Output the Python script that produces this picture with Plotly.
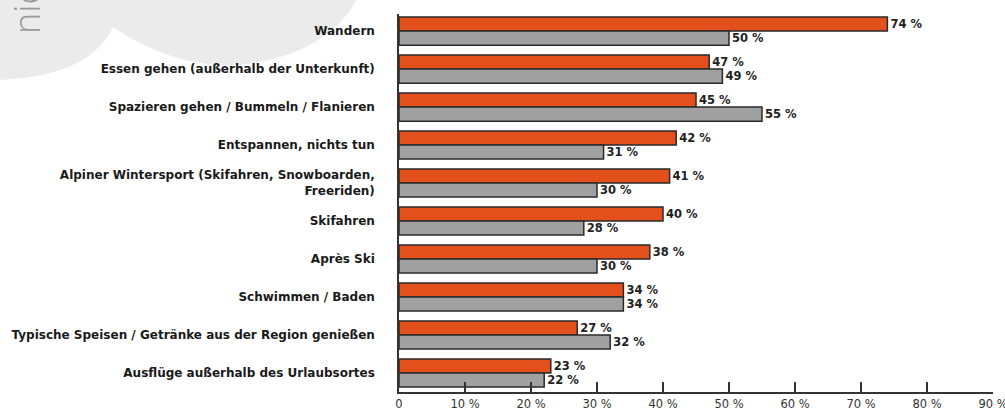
import plotly.graph_objects as go

categories = [
    "Wandern",
    "Essen gehen (außerhalb der Unterkunft)",
    "Spazieren gehen / Bummeln / Flanieren",
    "Entspannen, nichts tun",
    "Alpiner Wintersport (Skifahren, Snowboarden,<br>Freeriden)",
    "Skifahren",
    "Après Ski",
    "Schwimmen / Baden",
    "Typische Speisen / Getränke aus der Region genießen",
    "Ausflüge außerhalb des Urlaubsortes",
]
series_a = [74, 47, 45, 42, 41, 40, 38, 34, 27, 23]
series_b = [50, 49, 55, 31, 30, 28, 30, 34, 32, 22]
tick_vals = [0, 10, 20, 30, 40, 50, 60, 70, 80, 90]
tick_text = ["0", "10 %", "20 %", "30 %", "40 %", "50 %", "60 %", "70 %", "80 %", "90 %"]

W, H = 1005, 412
ML, MT = 399, 14
PW = 993 - 399
PH = 392 - 14
MR = W - ML - PW
MB = H - MT - PH

def P(x, y):
    a = (x - ML) / PW
    b = 1 - (y - MT) / PH
    return f"{a:.5f},{b:.5f}"

FONT = "DejaVu Sans"

fig = go.Figure()
for vals, col in ((series_a, "#E4501B"), (series_b, "#A0A0A0")):
    fig.add_trace(go.Bar(
        y=categories, x=vals, orientation="h",
        marker=dict(color=col, line=dict(color="#2a2a2a", width=1.5)),
        text=[f"{v} %" for v in vals], textposition="outside",
        textfont=dict(family=FONT, size=11.5, color="#222222", weight="bold"),
        cliponaxis=False, hoverinfo="skip",
    ))

path = (f"M {P(-2,-2)} L {P(-2,80)} C {P(50,78)} {P(95,65)} {P(113,27)} "
        f"C {P(140,45)} {P(180,65)} {P(225,65)} C {P(290,65)} {P(340,35)} {P(357,-2)} Z")
fig.add_shape(type="path", path=path, xref="paper", yref="paper",
              fillcolor="#EBEBEB", line=dict(width=0), layer="below")
a, b = P(27, 36).split(",")
fig.add_annotation(text="nicht", x=float(a), y=float(b), xref="paper", yref="paper",
                   textangle=-90, showarrow=False, xanchor="center", yanchor="bottom",
                   font=dict(family="Open Sans", size=36, color="#9a9a9a", weight=300))

fig.update_layout(
    width=W, height=H,
    margin=dict(l=ML, r=MR, t=MT, b=MB, autoexpand=False),
    barmode="group", bargap=0.26, bargroupgap=0,
    plot_bgcolor="rgba(0,0,0,0)", paper_bgcolor="white",
    showlegend=False,
    xaxis=dict(range=[0, 90], tickvals=tick_vals, ticktext=tick_text,
               showgrid=False, zeroline=False, showline=True, linecolor="#333333", linewidth=1.5,
               ticks="inside", ticklen=10, tickwidth=1.5, tickcolor="#333333",
               ticklabeloverflow="allow",
               tickfont=dict(family=FONT, size=11.5, color="#333333")),
    yaxis=dict(range=[9.5, -0.45], showgrid=False, zeroline=False,
               showline=True, linecolor="#333333", linewidth=1.5, ticks="",
               ticklabelstandoff=20,
               tickfont=dict(family=FONT, size=12, color="#1a1a1a", weight="bold")),
)
fig.write_html("out.html", config={"displayModeBar": False},
               post_script="document.body.style.margin='0';document.body.style.overflow='hidden';")
